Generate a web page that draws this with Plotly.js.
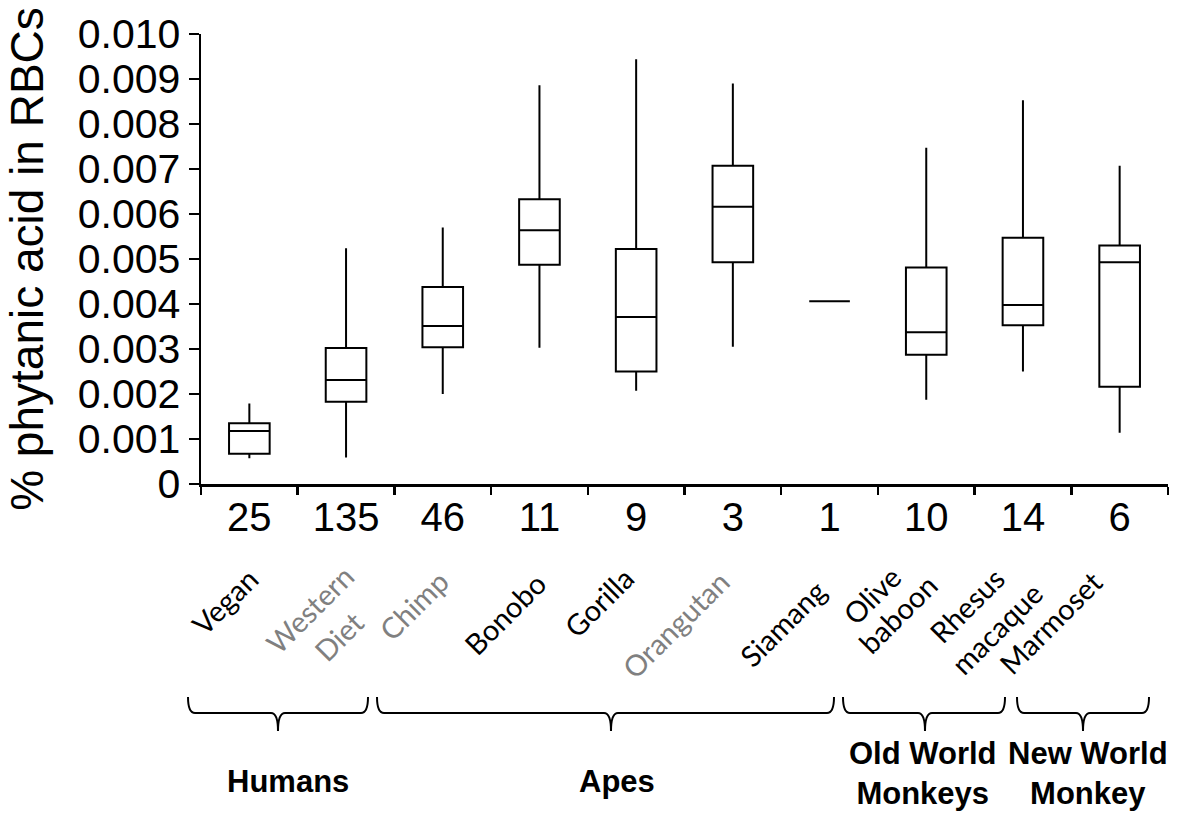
<!DOCTYPE html>
<html>
<head>
<meta charset="utf-8">
<script src="https://cdn.plot.ly/plotly-3.0.1.min.js"></script>
<style>html,body{margin:0;padding:0;background:#fff;}#chart{width:1200px;height:813px;}</style>
</head>
<body>
<div id="chart"></div>
<script>
// ---- data ----
const species = ["Vegan", "Western Diet", "Chimp", "Bonobo", "Gorilla", "Orangutan", "Siamang", "Olive baboon", "Rhesus macaque", "Marmoset"];
const speciesLabels = ["Vegan", "Western<br>Diet", "Chimp", "Bonobo", "Gorilla", "Orangutan", "Siamang", "Olive<br>baboon", "Rhesus<br>macaque", "Marmoset"];
const speciesColors = ["#000000", "#808080", "#808080", "#000000", "#000000", "#808080", "#000000", "#000000", "#000000", "#000000"];
const sampleSizes = ["25", "135", "46", "11", "9", "3", "1", "10", "14", "6"];
const lowerWhisker = [0.00057, 0.00059, 0.00200, 0.00303, 0.00207, 0.00305, 0.00406, 0.00187, 0.00250, 0.00114];
const q1Values     = [0.00067, 0.00183, 0.00304, 0.00487, 0.00250, 0.00493, 0.00406, 0.00287, 0.00353, 0.00216];
const medianValues = [0.00118, 0.00231, 0.00351, 0.00564, 0.00371, 0.00616, 0.00406, 0.00337, 0.00398, 0.00493];
const q3Values     = [0.00135, 0.00302, 0.00438, 0.00633, 0.00522, 0.00707, 0.00406, 0.00481, 0.00547, 0.00530];
const upperWhisker = [0.00179, 0.00524, 0.00570, 0.00886, 0.00944, 0.00890, 0.00406, 0.00747, 0.00853, 0.00707];
const yTickVals = [0, 0.001, 0.002, 0.003, 0.004, 0.005, 0.006, 0.007, 0.008, 0.009, 0.010];
const yTickText = ["0", "0.001", "0.002", "0.003", "0.004", "0.005", "0.006", "0.007", "0.008", "0.009", "0.010"];
const groupNames = ["Humans", "Apes", "Old World<br>Monkeys", "New World<br>Monkey"];

// ---- layout geometry (pixels) ----
const W = 1200, H = 813;
const M = {l: 201, r: 32, t: 34, b: 329};
const plotW = W - M.l - M.r, plotH = H - M.t - M.b;
const px = x => (x - M.l) / plotW;
const py = y => (H - M.b - y) / plotH;

const trace = {
  type: "box",
  x: species,
  q1: q1Values,
  median: medianValues,
  q3: q3Values,
  lowerfence: lowerWhisker,
  upperfence: upperWhisker,
  boxpoints: false,
  width: 0.42,
  whiskerwidth: 0,
  fillcolor: "rgba(255,255,255,0)",
  line: {color: "#000000", width: 2},
  hoverinfo: "skip",
  showlegend: false
};

const annotations = [];
// species labels, rotated; one centre per text line
const lineCenters = [
  [[224, 601]],
  [[309, 609], [338, 636]],
  [[413, 605]],
  [[505, 614]],
  [[598, 602]],
  [[675, 624]],
  [[782, 623]],
  [[871, 595], [898, 614]],
  [[966, 605], [996, 628]],
  [[1050, 622]]
];
speciesLabels.forEach((lab, i) => {
  lab.split("<br>").forEach((line, j) => {
    const c = lineCenters[i][j];
    annotations.push({
      xref: "paper", yref: "paper",
      x: px(c[0]), y: py(c[1]),
      xanchor: "center", yanchor: "middle",
      text: line, textangle: -45, showarrow: false,
      font: {family: "Lato, 'Open Sans', sans-serif", size: 29, color: speciesColors[i]}
    });
  });
});
// group labels
const groupLabelPos = [[288, 781], [617, 781], [923, 773], [1088, 773]];
groupNames.forEach((g, i) => {
  annotations.push({
    xref: "paper", yref: "paper",
    x: px(groupLabelPos[i][0]), y: py(groupLabelPos[i][1]),
    xanchor: "center", yanchor: "middle",
    text: "<b>" + g + "</b>", showarrow: false, align: "center",
    font: {family: "'Liberation Sans', Arial, sans-serif", size: 31, color: "#000"}
  });
});

// braces
const braceX = [[188, 368, 278], [377, 834, 611], [843, 1005, 925], [1017, 1149, 1083]];
const shapes = braceX.map(([x0, x1, tip]) => {
  const yTop = 697, yLine = 713, yTip = 731, r = 7;
  const P = (x, y) => px(x).toFixed(5) + "," + py(y).toFixed(5);
  const path = "M" + P(x0, yTop) +
    " Q" + P(x0, yLine) + " " + P(x0 + r, yLine) +
    " L" + P(tip - r, yLine) +
    " Q" + P(tip, yLine) + " " + P(tip, yTip) +
    " Q" + P(tip, yLine) + " " + P(tip + r, yLine) +
    " L" + P(x1 - r, yLine) +
    " Q" + P(x1, yLine) + " " + P(x1, yTop);
  return {type: "path", xref: "paper", yref: "paper", path: path, line: {color: "#000", width: 2}};
});

const layout = {
  width: W, height: H,
  margin: M,
  paper_bgcolor: "#fff", plot_bgcolor: "#fff",
  font: {family: "'Liberation Sans', Arial, sans-serif", color: "#000"},
  xaxis: {
    type: "category",
    categoryorder: "array", categoryarray: species,
    range: [-0.5, 9.5],
    tickmode: "array", tickvals: species, ticktext: sampleSizes,
    tickson: "boundaries",
    ticks: "outside", ticklen: 8, tickwidth: 2.5, tickcolor: "#000",
    showline: true, linecolor: "#000", linewidth: 2.5,
    showgrid: false, zeroline: false,
    tickfont: {size: 40, color: "#000"},
    ticklabelstandoff: -4,
    automargin: false, fixedrange: true
  },
  yaxis: {
    range: [0, 0.0100],
    tickmode: "array", tickvals: yTickVals, ticktext: yTickText,
    ticks: "outside", ticklen: 10, tickwidth: 2.5, tickcolor: "#000",
    showline: true, linecolor: "#000", linewidth: 2.5,
    showgrid: false, zeroline: false,
    tickfont: {size: 41, color: "#000"},
    title: {text: "% phytanic acid in RBCs", font: {size: 46, color: "#000"}, standoff: 20},
    automargin: false, fixedrange: true
  },
  boxmode: "overlay",
  annotations: annotations,
  shapes: shapes
};

Plotly.newPlot("chart", [trace], layout, {displayModeBar: false, staticPlot: true});
</script>
</body>
</html>
